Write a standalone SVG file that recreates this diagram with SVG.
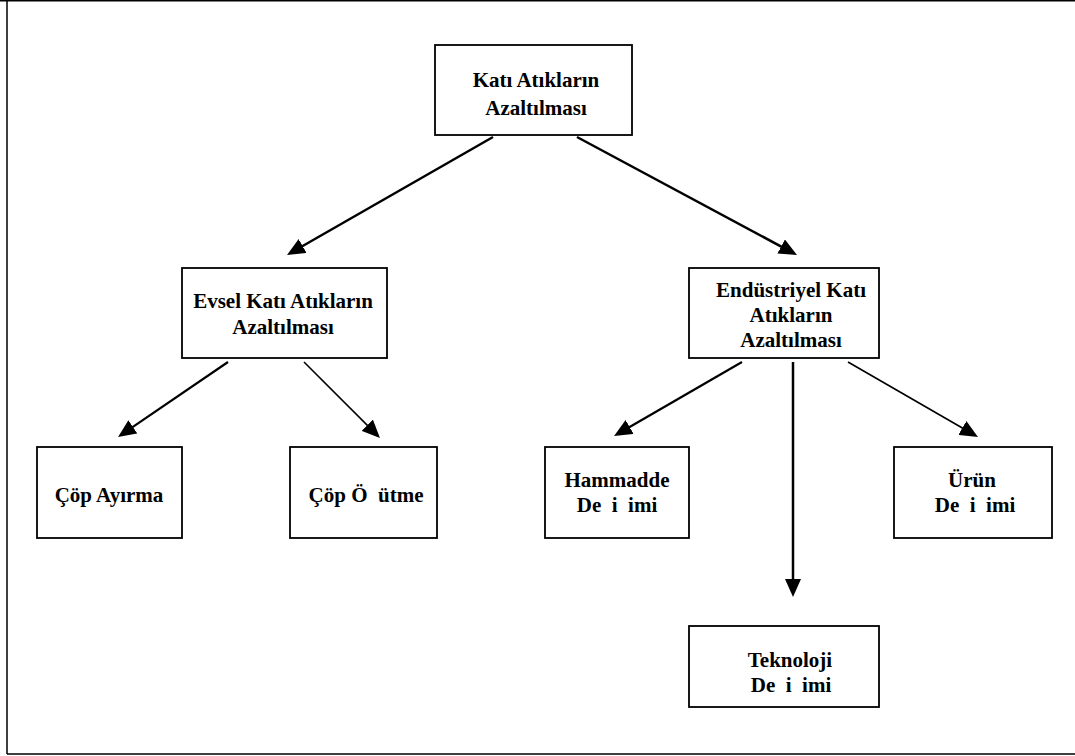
<svg xmlns="http://www.w3.org/2000/svg" width="1075" height="756" viewBox="0 0 1075 756">
<style>
.box{fill:#fff;stroke:#000;stroke-width:1.8}
.t{font-family:"Liberation Serif","Times New Roman",serif;font-weight:bold;font-size:21px;fill:#000;text-anchor:middle;white-space:pre}
.c{stroke:#000;fill:none;stroke-linecap:butt}
.frame{stroke:#000;stroke-width:1.5;fill:none}
</style>
<defs>
<marker id="ah" viewBox="0 0 18 16" markerWidth="18" markerHeight="16" refX="8" refY="8" orient="auto" markerUnits="userSpaceOnUse">
<path d="M0,0 L18,8 L0,16 Z" fill="#000"/>
</marker>
</defs>
<g id="frame">
<path class="frame" d="M0,0.8 H1075 M7,0 V754 M7,754 H1075"/>
</g>
<g id="connectors">
<line class="c" stroke-width="2.5" x1="493" y1="137" x2="295.7" y2="250" marker-end="url(#ah)"/>
<line class="c" stroke-width="2.5" x1="577" y1="137" x2="788.2" y2="250.3" marker-end="url(#ah)"/>
<line class="c" stroke-width="2.2" x1="228" y1="362" x2="126.3" y2="431.4" marker-end="url(#ah)"/>
<line class="c" stroke-width="1.6" x1="304" y1="362" x2="372.9" y2="430.9" marker-end="url(#ah)"/>
<line class="c" stroke-width="2.2" x1="742" y1="362" x2="622.7" y2="431" marker-end="url(#ah)"/>
<line class="c" stroke-width="2.5" x1="793" y1="362" x2="793" y2="587" marker-end="url(#ah)"/>
<line class="c" stroke-width="1.6" x1="848" y1="362" x2="969.3" y2="432" marker-end="url(#ah)"/>
</g>
<g id="n-top">
<rect class="box" x="435" y="45" width="197" height="90"/>
<text class="t" x="536" y="87">Katı Atıkların</text>
<text class="t" x="536" y="115">Azaltılması</text>
</g>
<g id="n-evsel">
<rect class="box" x="182" y="268" width="205" height="90"/>
<text class="t" x="283" y="308">Evsel Katı Atıkların</text>
<text class="t" x="283" y="334">Azaltılması</text>
</g>
<g id="n-endustriyel">
<rect class="box" x="689" y="268" width="190" height="90"/>
<text class="t" x="791" y="297">Endüstriyel Katı</text>
<text class="t" x="791" y="322">Atıkların</text>
<text class="t" x="791" y="347">Azaltılması</text>
</g>
<g id="n-ayirma">
<rect class="box" x="37" y="447" width="145" height="91"/>
<text class="t" x="109" y="502">Çöp Ayırma</text>
</g>
<g id="n-ogutme">
<rect class="box" x="290" y="447" width="147" height="91"/>
<text class="t" x="366" y="502">Çöp Ö  ütme</text>
</g>
<g id="n-hammadde">
<rect class="box" x="545" y="447" width="144" height="91"/>
<text class="t" x="617" y="487">Hammadde</text>
<text class="t" x="617" y="512">De  i  imi</text>
</g>
<g id="n-urun">
<rect class="box" x="894" y="447" width="158" height="91"/>
<text class="t" x="972" y="487">Ürün</text>
<text class="t" x="975" y="512">De  i  imi</text>
</g>
<g id="n-teknoloji">
<rect class="box" x="689" y="626" width="190" height="81"/>
<text class="t" x="790" y="667">Teknoloji</text>
<text class="t" x="791" y="692">De  i  imi</text>
</g>
</svg>
